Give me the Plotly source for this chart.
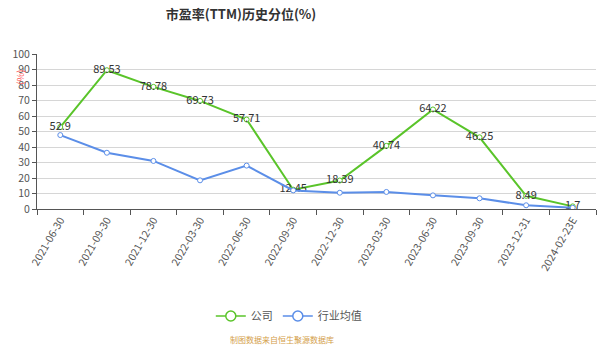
import plotly.graph_objects as go

dates = ["2021-06-30", "2021-09-30", "2021-12-30", "2022-03-30", "2022-06-30",
         "2022-09-30", "2022-12-30", "2023-03-30", "2023-06-30", "2023-09-30",
         "2023-12-31", "2024-02-23E"]
company = [52.9, 89.53, 78.78, 69.73, 57.71, 12.45, 18.39, 40.74, 64.22, 46.25, 8.49, 1.7]
industry = [47.7, 36.3, 31.0, 18.5, 28.0, 12.0, 10.5, 11.0, 8.8, 6.9, 2.4, 0.8]

green = "#5ac42a"
blue = "#5b8ee8"

fig = go.Figure()
fig.add_trace(go.Scatter(
    x=dates, y=company, name="公司", mode="lines+markers+text", showlegend=False,
    line=dict(color=green, width=2),
    marker=dict(symbol="circle", size=5, color="white", line=dict(color=green, width=1)),
    text=[f"{v:g}" for v in company], textposition="middle center",
    textfont=dict(size=11, color="#333333"),
))
fig.add_trace(go.Scatter(
    x=dates, y=industry, name="行业均值", mode="lines+markers", showlegend=False,
    line=dict(color=blue, width=2),
    marker=dict(symbol="circle", size=5, color="white", line=dict(color=blue, width=1)),
))

# legend entries with larger hollow circle icons
for name, color in [("公司", green), ("行业均值", blue)]:
    fig.add_trace(go.Scatter(
        x=[None], y=[None], name=name, mode="lines+markers",
        line=dict(color=color, width=1.5),
        marker=dict(symbol="circle", size=10, color="white", line=dict(color=color, width=1.5)),
    ))

fig.update_layout(
    width=608, height=346,
    margin=dict(l=34, r=12, t=54, b=137),
    paper_bgcolor="white", plot_bgcolor="white",
    font=dict(family="Noto Sans CJK SC, sans-serif", color="#333333"),
    title=dict(text="<b>市盈率(TTM)历史分位(%)</b>", x=241 / 608, xanchor="center",
               y=1 - 14 / 346, yanchor="middle", font=dict(size=13, color="#333333")),
    showlegend=True,
    legend=dict(orientation="h", xref="container", yref="container",
                x=0.475, xanchor="center", y=1 - 316 / 346, yanchor="middle",
                font=dict(size=11, color="#555555"), itemwidth=30),
    xaxis=dict(type="category", range=[-0.5, 11.5], tickson="boundaries",
               ticks="outside", ticklen=5, tickcolor="#555555",
               showline=True, linecolor="#555555", linewidth=1,
               showgrid=False, tickangle=-60, tickfont=dict(size=10.5, color="#555555")),
    yaxis=dict(range=[0, 100], dtick=10, ticks="outside", ticklen=4, tickcolor="#555555",
               showline=True, linecolor="#555555", linewidth=1,
               gridcolor="#d6d6d6", gridwidth=1, zeroline=False,
               tickfont=dict(size=10.5, color="#555555")),
    annotations=[
        dict(text="(%)", xref="paper", yref="paper", x=(7 - 34) / 562, y=(209 - 68) / 155,
             showarrow=False, textangle=-90, font=dict(size=9.5, color="#ff5555")),
        dict(text="制图数据来自恒生聚源数据库", xref="paper", yref="paper",
             x=(280 - 34) / 562, y=(209 - 339) / 155, yanchor="middle", showarrow=False,
             font=dict(size=8, color="#d4a04a")),
    ],
)

fig.write_html("out.html")
